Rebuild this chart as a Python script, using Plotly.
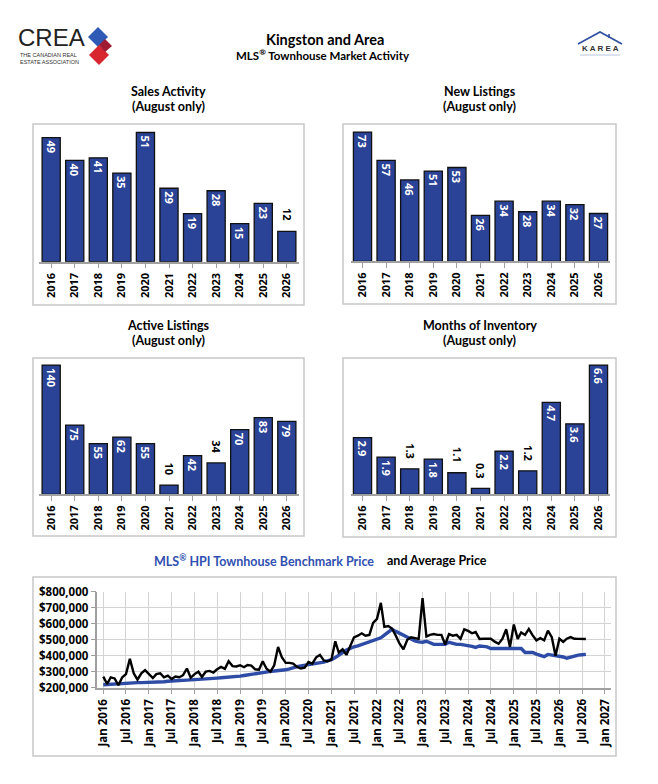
import pandas as pd
import plotly.graph_objects as go

W, H = 658, 784
PAGE_OFF = 8  # browser body margin pushes the figure right/down by this much

YEARS = [str(y) for y in range(2016, 2027)]
SALES = [49, 40, 41, 35, 51, 29, 19, 28, 15, 23, 12]
NEW_LISTINGS = [73, 57, 46, 51, 53, 26, 34, 28, 34, 32, 27]
ACTIVE = [140, 75, 55, 62, 55, 10, 42, 34, 70, 83, 79]
MONTHS_INV = [2.9, 1.9, 1.3, 1.8, 1.1, 0.3, 2.2, 1.2, 4.7, 3.6, 6.6]

# years whose value label sits above the bar rather than inside it
SALES_OUT = ["2026"]
NEW_OUT = []
ACTIVE_OUT = ["2021", "2023"]
MONTHS_OUT = ["2018", "2020", "2021", "2023"]

# monthly prices, $000s, Jan 2016 .. Aug 2026
AVG_PRICE_K = [
    269, 223, 265, 258, 215, 265, 285, 380, 290, 250, 290, 310,
    285, 260, 285, 290, 265, 275, 255, 270, 265, 278, 320, 262,
    285, 300, 268, 300, 305, 295, 315, 330, 318, 365, 335, 333,
    340, 328, 342, 338, 315, 312, 365, 318, 300, 340, 455, 390,
    355, 355, 350, 330, 320, 325, 360, 350, 390, 405, 370, 365,
    375, 490, 420, 440, 405, 460, 515, 525, 540, 525, 530, 605,
    630, 730, 580, 585, 570, 525, 475, 440, 500, 515, 510, 505,
    760, 520, 530, 535, 530, 530, 470, 535, 525, 530, 505, 565,
    555, 540, 548, 505, 506, 508, 506, 488, 475, 505, 565, 455,
    595, 505, 545, 530, 567, 527, 496, 510, 496, 557, 516, 400,
    506, 486, 506, 516, 506, 505, 504, 504,
]
HPI_K = [
    218, 220, 222, 224, 226, 228, 230, 231, 232, 232, 232, 232,
    233, 233, 234, 235, 237, 240, 243, 244, 245, 246, 247, 248,
    249, 250, 252, 254, 256, 258, 260, 262, 263, 264, 266, 268,
    272, 276, 280, 284, 288, 293, 298, 300, 302, 304, 306, 308,
    312, 318, 326, 332, 336, 340, 342, 346, 350, 355, 360, 368,
    375, 388, 405, 420, 435, 448, 456, 462, 470, 477, 485, 494,
    500, 512, 529, 548, 565, 552, 540, 525, 512, 502, 492, 486,
    484, 490, 480, 471, 471, 471, 471, 484, 476, 471, 471, 468,
    463, 458, 452, 461, 458, 455, 445, 445, 445, 445, 446, 449,
    449, 447, 445, 420, 420, 420, 410, 402, 394, 408, 404, 402,
    400, 392, 384, 392, 400, 404, 406, 408,
]
MONTHS = pd.date_range("2016-01-01", periods=len(AVG_PRICE_K), freq="MS")

BAR_BLUE = "#2A4397"
LINE_BLUE = "#2E4CA6"
BOX_GREY = "#C8C8C8"
AXIS_GREY = "#A0A0A0"
TICK_FONT = dict(family="Noto Sans", size=11, color="black", weight="bold")
LABEL_FONT = dict(family="Noto Sans", size=11, weight="bold")


def fx(x):
    return (x - PAGE_OFF) / W


def fy(y):
    return 1 - (y - PAGE_OFF) / H


def note(x, y, text, font, xanchor="center"):
    """paper-positioned text at page pixel (x, y)."""
    return dict(x=fx(x), y=fy(y), xref="paper", yref="paper", text=text, showarrow=False,
                xanchor=xanchor, yanchor="middle", font=font)


fig = go.Figure()
annotations, shapes = [], []


def bar_panel(n, values, out_years, box, x_px, base_y, title):
    """box=(x0,y0,x1,y1) in px; x_px=(left,right) of the axis; base_y = bar baseline px."""
    sfx = "" if n == 1 else str(n)
    xa, ya = "x" + sfx, "y" + sfx
    bar_style = dict(xaxis=xa, yaxis=ya, width=0.77, showlegend=False, hoverinfo="skip",
                     marker=dict(color=BAR_BLUE, line=dict(color="#111", width=1.3)))
    ins = [(y, v) for y, v in zip(YEARS, values) if y not in out_years]
    outs = [(y, v) for y, v in zip(YEARS, values) if y in out_years]
    fig.add_trace(go.Bar(x=[y for y, _ in ins], y=[v for _, v in ins],
                         text=[f"{v}" for _, v in ins], textposition="inside",
                         insidetextanchor="end", textangle=90, constraintext="none",
                         insidetextfont=dict(LABEL_FONT, color="white"), **bar_style))
    if outs:
        fig.add_trace(go.Bar(x=[y for y, _ in outs], y=[v for _, v in outs],
                             textposition="none", **bar_style))
    for y, v in outs:
        annotations.append(dict(x=YEARS.index(y), y=v, xref=xa, yref=ya, text=f"{v}",
                                showarrow=False, textangle=90, xanchor="center",
                                yanchor="bottom", yshift=8, font=dict(LABEL_FONT, color="black")))
    top_y = base_y - 135
    fig.update_layout({
        f"xaxis{sfx}": dict(domain=[fx(x_px[0]), fx(x_px[1])], anchor=ya, type="category",
                            categoryorder="array", categoryarray=YEARS, range=[-0.5, 10.5],
                            showline=True, linecolor=AXIS_GREY, linewidth=1.5,
                            ticks="outside", ticklen=5, tickcolor=AXIS_GREY, tickangle=-90,
                            tickfont=TICK_FONT, showgrid=False, automargin=False,
                            fixedrange=True),
        f"yaxis{sfx}": dict(domain=[fy(base_y), fy(top_y)], anchor=xa, visible=False,
                            range=[0, max(values) * 1.045], automargin=False,
                            fixedrange=True),
    })
    x0, y0, x1, y1 = box
    shapes.append(dict(type="rect", xref="paper", yref="paper", x0=fx(x0), x1=fx(x1),
                       y0=fy(y1), y1=fy(y0), line=dict(color=BOX_GREY, width=1.5)))
    cx = (x0 + x1) / 2
    for i, line in enumerate([title, "(August only)"]):
        annotations.append(note(cx, 92 + i * 15 + (y0 - 125), f"<b>{line}</b>",
                                dict(family="Lato", size=12.5, color="black")))


bar_panel(1, SALES, SALES_OUT, (33, 124, 304, 305), (39.4, 298.6), 261.7, "Sales Activity")
bar_panel(2, NEW_LISTINGS, NEW_OUT, (343, 124, 616, 304), (350.7, 610.3), 261.3, "New Listings")
bar_panel(3, ACTIVE, ACTIVE_OUT, (33, 358, 304, 536), (39.4, 298.6), 494.3, "Active Listings")
bar_panel(4, MONTHS_INV, MONTHS_OUT, (343, 358, 616, 537), (350.7, 610.3), 494.3,
          "Months of Inventory")

# ---- benchmark vs average price line chart ----
fig.add_trace(go.Scatter(x=MONTHS, y=[v * 1000 for v in HPI_K], xaxis="x5", yaxis="y5",
                         mode="lines", line=dict(color=LINE_BLUE, width=3.4),
                         showlegend=False, hoverinfo="skip"))
fig.add_trace(go.Scatter(x=MONTHS, y=[v * 1000 for v in AVG_PRICE_K], xaxis="x5", yaxis="y5",
                         mode="lines", line=dict(color="black", width=2.4),
                         showlegend=False, hoverinfo="skip"))
fig.update_layout(
    xaxis5=dict(domain=[fx(97.4), fx(610.6)], anchor="y5", type="date",
                range=["2015-11-15", "2027-02-15"], tick0="2016-01-01", dtick="M6",
                tickformat="%b %Y", tickangle=-90, tickfont=dict(TICK_FONT, size=11.5),
                showgrid=True, gridcolor="#D3D3D3", gridwidth=1, showline=True,
                linecolor=AXIS_GREY, linewidth=1.5, ticks="outside", ticklen=5,
                tickcolor=AXIS_GREY, automargin=False, fixedrange=True),
    yaxis5=dict(domain=[fy(687.7), fy(591.7)], anchor="x5", range=[200000, 800000],
                dtick=100000, tickprefix="$", tickformat=",", tickfont=dict(TICK_FONT, size=11.5),
                showgrid=True, gridcolor="#D3D3D3", gridwidth=1, showline=True,
                linecolor=AXIS_GREY, linewidth=1.5, ticks="outside", ticklen=5,
                tickcolor=AXIS_GREY, zeroline=False, automargin=False, fixedrange=True),
)
shapes.append(dict(type="rect", xref="paper", yref="paper", x0=fx(33), x1=fx(616),
                   y0=fy(756), y1=fy(577), line=dict(color=BOX_GREY, width=1.5)))
annotations += [
    note(376, 560, "<b>MLS<sup>®</sup> HPI Townhouse Benchmark Price</b>",
         dict(family="Lato", size=12.5, color="#3050B0"), xanchor="right"),
    note(385, 560, "<b>and Average Price</b>", dict(family="Lato", size=12.5, color="black"),
         xanchor="left"),
]

# ---- header ----
annotations += [
    note(325, 39, "<b>Kingston and Area</b>", dict(family="Lato", size=14.5, color="black")),
    note(323, 54.5, "<b>MLS<sup>®</sup> Townhouse Market Activity</b>",
         dict(family="Lato", size=11.5, color="black")),
    note(16, 37, "CREA", dict(family="Liberation Sans", size=24, color="#222"), xanchor="left"),
    note(18, 55, "THE CANADIAN REAL", dict(family="Liberation Sans", size=5.5, color="#333"),
         xanchor="left"),
    note(18, 62, "ESTATE ASSOCIATION", dict(family="Liberation Sans", size=5.5, color="#333"),
         xanchor="left"),
    note(600, 49, "<b>K A R E A</b>", dict(family="Liberation Sans", size=8, color="#333")),
]


def poly(points, color):
    path = "M " + " L ".join(f"{fx(x):.5f},{fy(y):.5f}" for x, y in points) + " Z"
    return dict(type="path", xref="paper", yref="paper", path=path, fillcolor=color,
                line=dict(width=0))


shapes += [
    poly([(88, 37), (98, 27), (108, 37), (98, 47)], "#2F5BB7"),
    poly([(89, 55), (99, 45), (109, 55), (99, 65)], "#D7262E"),
    poly([(99, 45), (105, 39), (112, 46), (105, 52)], "#9E1B32"),
    dict(type="path", xref="paper", yref="paper", line=dict(color="#2F4F9F", width=1.6),
         path=f"M {fx(578)},{fy(44)} L {fx(600)},{fy(32)} L {fx(622)},{fy(44)}"),
    dict(type="line", xref="paper", yref="paper", x0=fx(609), x1=fx(609), y0=fy(38),
         y1=fy(34), line=dict(color="#2F4F9F", width=1.6)),
    dict(type="line", xref="paper", yref="paper", x0=fx(580), x1=fx(620), y0=fy(55),
         y1=fy(55), line=dict(color="#B8C4E0", width=1)),
    # viewer edge on the right
    dict(type="rect", xref="paper", yref="paper", x0=fx(652), x1=fx(662), y0=0, y1=1,
         fillcolor="#2B2B2B", line=dict(width=0)),
]

fig.update_layout(template="none", width=W, height=H, margin=dict(l=0, r=0, t=0, b=0, pad=0),
                  paper_bgcolor="white", plot_bgcolor="white", barmode="overlay",
                  showlegend=False, annotations=annotations, shapes=shapes,
                  font=dict(family="Noto Sans", color="black"))
fig.write_html("out.html")
